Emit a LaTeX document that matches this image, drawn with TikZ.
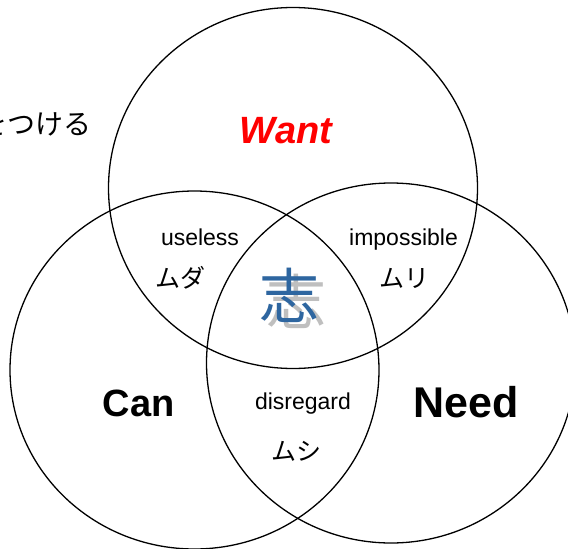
\documentclass[tikz,border=0pt]{standalone}
\usepackage{fontspec}
\setmainfont{Liberation Sans}
\newfontfamily\jpfont{Noto Sans CJK JP}
\usepackage{xcolor}
\usepackage{tikz}
\definecolor{kokorozashi}{RGB}{46,102,160}

\begin{document}
\begin{tikzpicture}[x=1pt,y=-1pt]
        \tikzstyle{every node}+=[inner sep=0pt]
        \tikzstyle{venn}=[black, line width=1.3pt]
        \tikzstyle{big}=[anchor=base, font=\bfseries]
        \tikzstyle{small}=[anchor=base, font=\fontsize{23}{23}\selectfont]
        \tikzstyle{kana}=[font=\jpfont\fontsize{25}{25}\selectfont]
        \useasboundingbox (0,0) rectangle (568,549);
        \coordinate (cwant) at (293,188);
        \coordinate (ccan) at (194.5,370);
        \coordinate (cneed) at (391,363);
        \draw [venn] (cwant) ellipse [x radius=184.5, y radius=180.5];
        \draw [venn] (ccan) ellipse [x radius=184.5, y radius=179];
        \draw [venn] (cneed) ellipse [x radius=184.5, y radius=180];
        \node [anchor=east, font=\jpfont\fontsize{28}{28}\selectfont] (tsukeru) at (92,124) {をつける};
        \node [big, red, font=\bfseries\itshape\fontsize{38}{38}\selectfont] (want) at (286,143) {Want};
        \node [big, font=\bfseries\fontsize{38}{38}\selectfont] (can) at (138.5,416) {Can};
        \node [big, font=\bfseries\fontsize{43}{43}\selectfont] (need) at (466.5,417) {Need};
        \node [small] (useless) at (200,245.5) {useless};
        \node [small] (impossible) at (403.5,245) {impossible};
        \node [small] (disregard) at (303,409) {disregard};
        \node [kana] (muda) at (180,278) {ムダ};
        \node [kana] (muri) at (404,278) {ムリ};
        \node [kana] (mushi) at (296,451) {ムシ};
        \node [gray!50, font=\jpfont\fontsize{60}{60}\selectfont] (shadow) at (296,301) {志};
        \node [kokorozashi, font=\jpfont\fontsize{60}{60}\selectfont] (kokoro) at (289,295) {志};
    \end{tikzpicture}
\end{document}
